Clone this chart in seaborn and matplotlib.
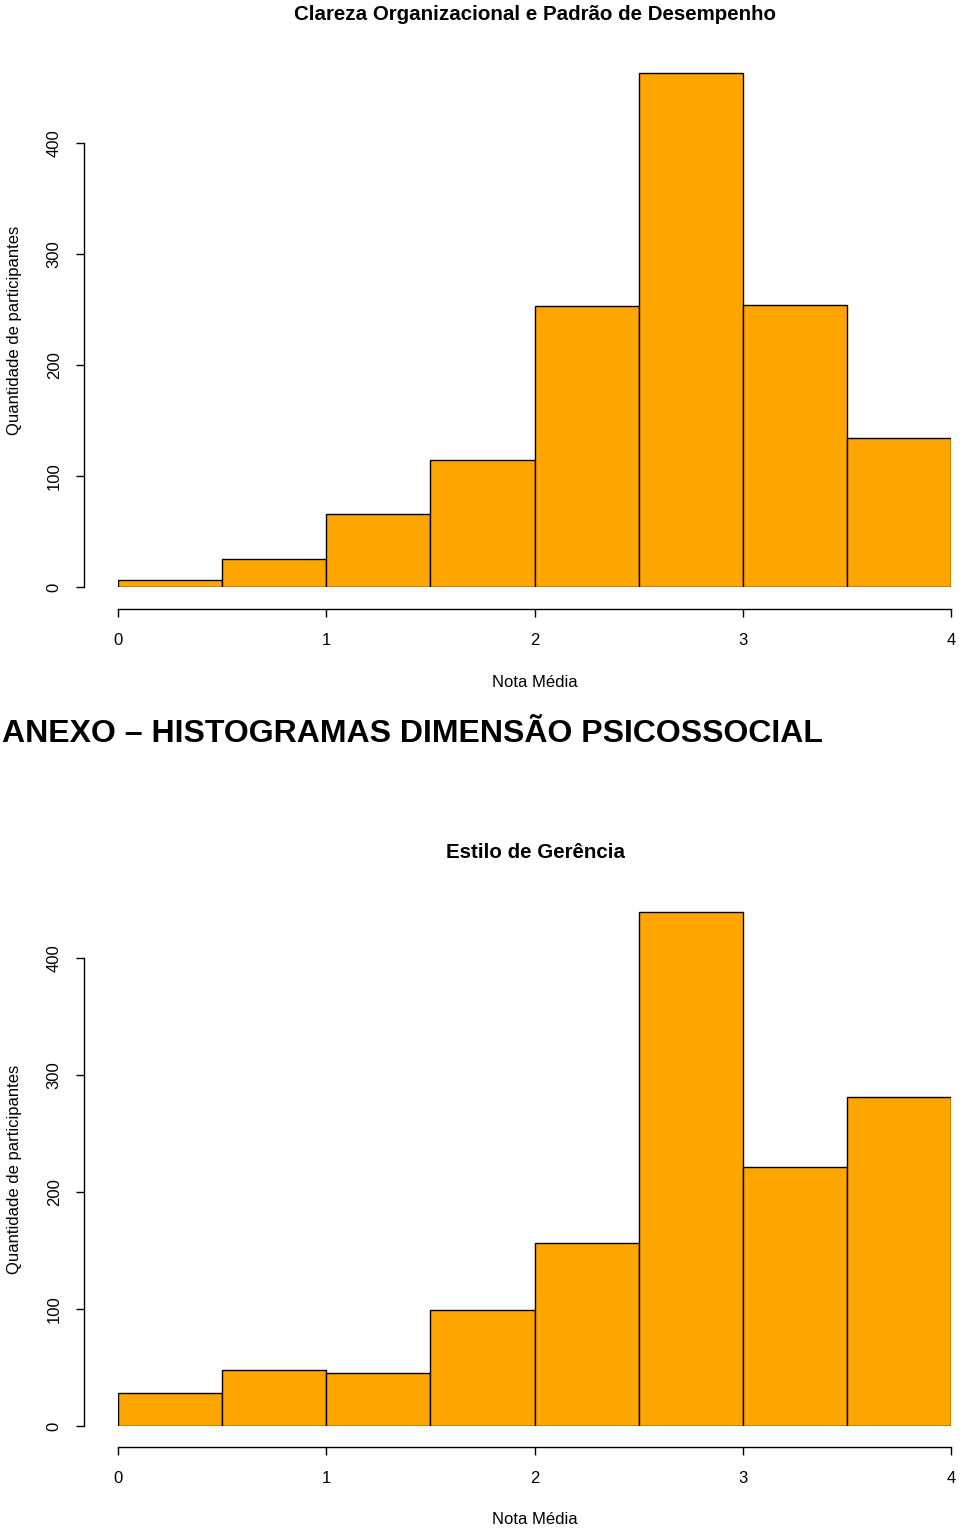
"""Histogramas (estilo R base) recriados com seaborn."""
import numpy as np
import pandas as pd
import matplotlib
matplotlib.use("Agg")
import matplotlib.pyplot as plt
import seaborn as sns

# bins de 0.5 entre 0 e 4
bin_edges = [0.0, 0.5, 1.0, 1.5, 2.0, 2.5, 3.0, 3.5, 4.0]
bin_mids = [0.25, 0.75, 1.25, 1.75, 2.25, 2.75, 3.25, 3.75]

clareza_counts = [6, 25, 66, 114, 253, 463, 254, 134]
gerencia_counts = [28, 48, 45, 99, 156, 439, 221, 281]

y_ticks = [0, 100, 200, 300, 400]
x_ticks = [0, 1, 2, 3, 4]

titles = ["Clareza Organizacional e Padrão de Desempenho", "Estilo de Gerência"]
header = "ANEXO – HISTOGRAMAS DIMENSÃO PSICOSSOCIAL"

sns.set_theme(style="white")
plt.rcParams["font.family"] = ["Liberation Sans", "DejaVu Sans"]
plt.rcParams["text.color"] = "black"

W, H = 960, 1531
fig = plt.figure(figsize=(W / 100, H / 100), dpi=100)


def px_axes(left, right, y0_px, top_px):
    return fig.add_axes([left / W, 1 - y0_px / H, (right - left) / W, (y0_px - top_px) / H])


def r_hist(ax, counts, ymax, y0_px, xaxis_px):
    df = pd.DataFrame({"nota": bin_mids, "n": counts})
    sns.histplot(data=df, x="nota", weights="n", bins=bin_edges, ax=ax,
                 color="#FFA500", edgecolor="black", linewidth=1.0, alpha=1.0)
    ax.set_xlim(0, 4)
    ax.set_ylim(0, ymax)
    ax.set_xlabel("")
    ax.set_ylabel("")
    for s in ("top", "right"):
        ax.spines[s].set_visible(False)
    ax.spines["left"].set_position(("outward", 34 * 0.72))
    ax.spines["left"].set_bounds(0, 400)
    ax.spines["bottom"].set_position(("outward", (xaxis_px - y0_px) * 0.72))
    ax.spines["bottom"].set_bounds(0, 4)
    for s in ("left", "bottom"):
        ax.spines[s].set_color("black")
        ax.spines[s].set_linewidth(1.0)
    ax.set_xticks(x_ticks)
    ax.set_yticks(y_ticks)
    ax.set_yticklabels([str(v) for v in y_ticks], rotation=90, va="center")
    ax.tick_params(axis="both", direction="out", length=6, width=1.0,
                   colors="black", labelsize=12, left=True, bottom=True)
    ax.tick_params(axis="y", pad=10)
    ax.tick_params(axis="x", pad=11)


# painel superior: y=0 em 587px, 400 em 143px
ppu_top = (587 - 143) / 400
ymax_top = 470
ax1 = px_axes(118, 951, 587, 587 - ymax_top * ppu_top)
r_hist(ax1, clareza_counts, ymax_top, 587, 609)

# painel inferior: y=0 em 1426px, 400 em 958px
ppu_bot = (1426 - 958) / 400
ymax_bot = 470
ax2 = px_axes(118, 951, 1426, 1426 - ymax_bot * ppu_bot)
r_hist(ax2, gerencia_counts, ymax_bot, 1426, 1447)

# textos
fig.text(535 / W, 1 - 15 / H, titles[0], ha="center", va="center",
         fontsize=14.8, fontweight="bold")
fig.text(535 / W, 1 - 853 / H, titles[1], ha="center", va="center",
         fontsize=14.8, fontweight="bold")
fig.text(535 / W, 1 - 682 / H, "Nota Média", ha="center", va="center", fontsize=12)
fig.text(535 / W, 1 - 1520 / H, "Nota Média", ha="center", va="center", fontsize=12)
fig.text(15 / W, 1 - 330 / H, "Quantidade de participantes", rotation=90,
         ha="center", va="center", fontsize=12)
fig.text(15 / W, 1 - 1169 / H, "Quantidade de participantes", rotation=90,
         ha="center", va="center", fontsize=12)
fig.text(2 / W, 1 - 734 / H, header, ha="left", va="center", fontsize=23,
         fontweight="bold")

fig.savefig("out.png", dpi=100)
